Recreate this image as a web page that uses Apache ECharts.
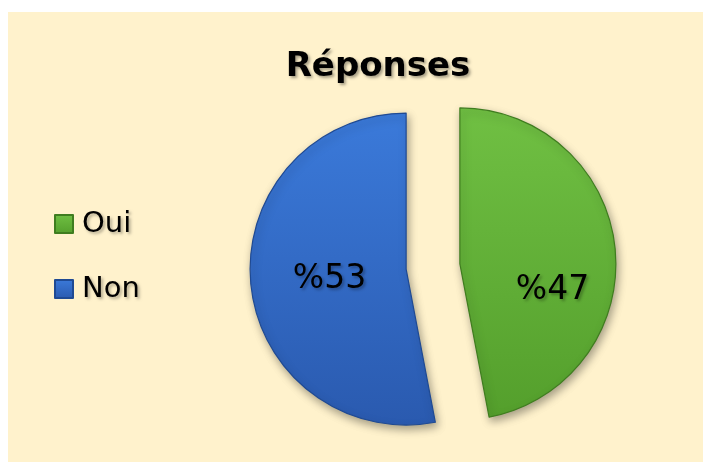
<!DOCTYPE html>
<html>
<head>
<meta charset="utf-8">
<script src="https://cdn.jsdelivr.net/npm/echarts@6/dist/echarts.min.js"></script>
<style>
html,body{margin:0;padding:0;background:#ffffff;}
#chart{width:703px;height:462px;}
</style>
</head>
<body>
<div id="chart"></div>
<script>
const categories = ['Oui', 'Non'];
const values = [47, 53];
const labelTexts = ['%47', '%53'];

const fills = [
  {type:'linear',x:0,y:0,x2:0,y2:1,colorStops:[{offset:0,color:'#70c043'},{offset:1,color:'#549f2c'}]},
  {type:'linear',x:0,y:0,x2:0,y2:1,colorStops:[{offset:0,color:'#3b7ada'},{offset:1,color:'#2a5aaf'}]}
];
const borders = ['#3f7d1f', '#1f4a93'];
const labelShift = [[12, 34], [4, 3]];

const chart = echarts.init(document.getElementById('chart'), null, {renderer:'canvas'});
chart.setOption({
  backgroundColor: 'transparent',
  animation: false,
  graphic: [{
    type: 'rect', z: -10, silent: true,
    shape: {x: 8, y: 12, width: 695, height: 450},
    style: {fill: '#fff2cc'}
  }],
  title: {
    text: 'Réponses',
    left: 373, top: 45, textAlign: 'center',
    textStyle: {
      fontFamily: 'DejaVu Sans', fontWeight: 'bold', fontSize: 34, color: '#000',
      textShadowColor: 'rgba(0,0,0,0.35)', textShadowBlur: 3, textShadowOffsetX: 2, textShadowOffsetY: 2
    }
  },
  legend: {
    orient: 'vertical', left: 49, top: 204,
    icon: 'rect', itemWidth: 18, itemHeight: 18, itemGap: 35,
    selectedMode: false,
    data: categories,
    textStyle: {
      fontFamily: 'DejaVu Sans', fontSize: 29, color: '#000', lineHeight: 30, padding: [0,0,0,4],
      textShadowColor: 'rgba(0,0,0,0.3)', textShadowBlur: 3, textShadowOffsetX: 2, textShadowOffsetY: 2
    }
  },
  series: [{
    type: 'pie',
    center: [433, 266.5],
    radius: [0, 156],
    startAngle: 90,
    clockwise: true,
    selectedMode: 'multiple',
    selectedOffset: 27,
    avoidLabelOverlap: false,
    emphasis: {disabled: true},
    label: {
      show: true, position: 'inside',
      fontFamily: 'DejaVu Sans', fontSize: 33, color: '#000',
      textShadowColor: 'rgba(0,0,0,0.3)', textShadowBlur: 3, textShadowOffsetX: 2, textShadowOffsetY: 2,
      formatter: p => labelTexts[p.dataIndex]
    },
    labelLine: {show: false},
    labelLayout: p => ({dx: labelShift[p.dataIndex][0], dy: labelShift[p.dataIndex][1]}),
    data: categories.map((c, i) => ({
      name: c, value: values[i], selected: true,
      itemStyle: {
        color: fills[i], borderColor: borders[i], borderWidth: 1.2,
        shadowColor: 'rgba(0,0,0,0.35)', shadowBlur: 8, shadowOffsetX: 2, shadowOffsetY: 4
      }
    }))
  }]
});
</script>
</body>
</html>
